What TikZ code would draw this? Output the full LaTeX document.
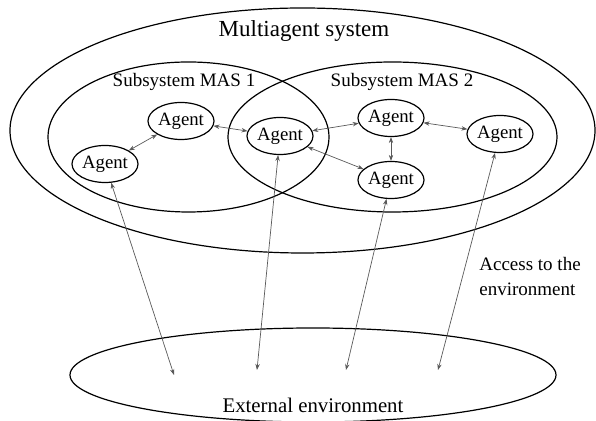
\documentclass[tikz,border=0pt]{standalone}
\usepackage{fontspec}
\setmainfont{Liberation Serif}
\usetikzlibrary{arrows.meta,shapes.geometric}
\tikzset{
	agent/.style={draw, ellipse, line width=0.6pt, minimum width=33pt, minimum height=18.5pt, inner sep=0pt, font=\fontsize{9.4}{11}\selectfont},
	link/.style={draw=black!65, line width=0.35pt, {Stealth[length=3pt,width=2.2pt]}-{Stealth[length=3pt,width=2.2pt]}},
	txt/.style={inner sep=0pt, font=\fontsize{9.5}{12.5}\selectfont}
}

\begin{document}
\begin{tikzpicture}[x=0.5pt, y=-0.5pt]
			%%%%% START %%%%%
			\useasboundingbox (0,0) rectangle (596,421);
			
			\draw[line width=0.6pt] (302.5,130.5) ellipse [x radius=292.5, y radius=122.5];
			\draw[line width=0.6pt] (188.5,137) ellipse [x radius=140.5, y radius=75];
			\draw[line width=0.6pt] (392.5,137) ellipse [x radius=164.5, y radius=75];
			\draw[line width=0.6pt] (313,375) ellipse [x radius=243, y radius=47];
			
			\node[txt, font=\fontsize{11.5}{14}\selectfont] (mas) at (304,31) {Multiagent system};
			\node[txt] (sub1) at (184,82) {Subsystem MAS 1};
			\node[txt] (sub2) at (402,82) {Subsystem MAS 2};
			\node[txt, font=\fontsize{10.4}{13}\selectfont] (ext) at (313,405) {External environment};
			\node[txt, anchor=west, align=left] (access) at (479,277) {Access to the\\environment};
			
			\node[agent] (agent1) at (105,164) {Agent};
			\node[agent] (agent2) at (181,121) {Agent};
			\node[agent] (agent3) at (280,136) {Agent};
			\node[agent] (agent4) at (391,118) {Agent};
			\node[agent] (agent5) at (391,180) {Agent};
			\node[agent] (agent6) at (500,134) {Agent};
			
			\coordinate (env1) at (174,375);
			\coordinate (env2) at (257,370);
			\coordinate (env3) at (346,370);
			\coordinate (env4) at (438,370);
			
			\draw[link] (agent1) -- (agent2);
			\draw[link] (agent2) -- (agent3);
			\draw[link] (agent3) -- (agent4);
			\draw[link] (agent3) -- (agent5);
			\draw[link] (agent4) -- (agent5);
			\draw[link] (agent4) -- (agent6);
			
			\draw[link] (agent1) -- (env1);
			\draw[link] (agent3) -- (env2);
			\draw[link] (agent5) -- (env3);
			\draw[link] (agent6) -- (env4);
			
			%%%%% END %%%%%
\end{tikzpicture}
\end{document}
